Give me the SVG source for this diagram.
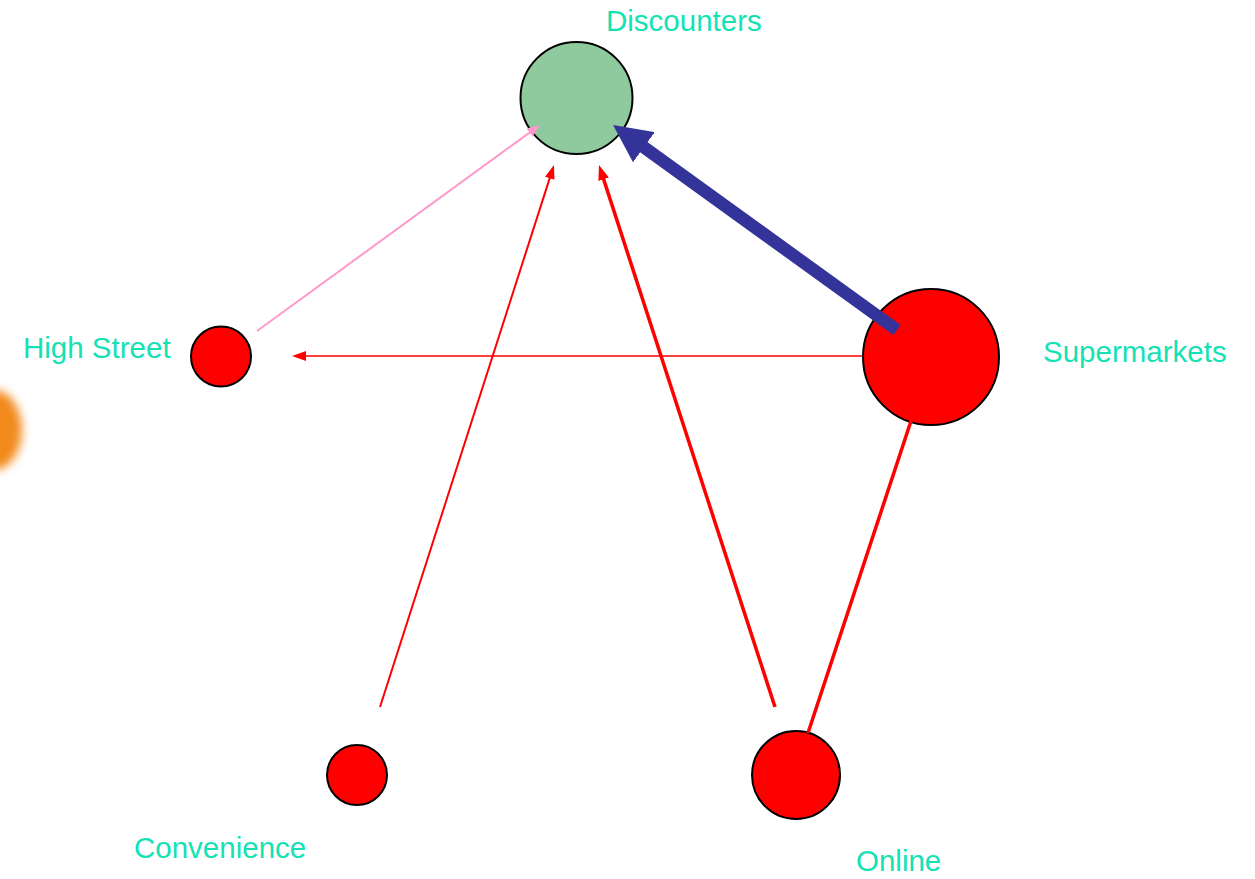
<svg xmlns="http://www.w3.org/2000/svg" width="1255" height="879" viewBox="0 0 1255 879">
<style>
.node{stroke:#000;stroke-width:2}
.red{fill:#FF0000}
.green{fill:#8ECA9E}
.lbl{font-family:"Liberation Sans",Arial,sans-serif;font-size:29.5px;fill:#14E2B4}
.c{fill:none}
</style>
<defs>
<filter id="blur" x="-1" y="-1" width="3" height="3"><feGaussianBlur stdDeviation="5"/></filter>
<marker id="ah-red" viewBox="0 0 14 10" refX="2" refY="5" markerUnits="userSpaceOnUse" markerWidth="14" markerHeight="10" orient="auto"><path d="M0,0 L14,5 L0,10 z" fill="#FF0000"/></marker>
<marker id="ah-red2" viewBox="0 0 15 11" refX="3" refY="5.5" markerUnits="userSpaceOnUse" markerWidth="15" markerHeight="11" orient="auto"><path d="M0,0 L15,5.5 L0,11 z" fill="#FF0000"/></marker>
<marker id="ah-pink" viewBox="0 0 13 10" refX="3" refY="5" markerUnits="userSpaceOnUse" markerWidth="13" markerHeight="10" orient="auto"><path d="M0,0 L13,5 L0,10 z" fill="#FF99CC"/></marker>
<marker id="ah-blue" viewBox="0 0 38 37" refX="4" refY="18.5" markerUnits="userSpaceOnUse" markerWidth="38" markerHeight="37" orient="auto"><path d="M0,0 L38,18.5 L0,37 z" fill="#333399"/></marker>
</defs>
<rect width="1255" height="879" fill="#fff"/>
<ellipse cx="-6" cy="430" rx="28" ry="40" fill="#F28A1A" filter="url(#blur)"/>
<g id="node-discounters"><circle class="node green" cx="576.5" cy="98" r="56"/><text class="lbl" x="606" y="31">Discounters</text></g>
<g id="node-highstreet"><circle class="node red" cx="221" cy="356.5" r="30"/><text class="lbl" x="23" y="358">High Street</text></g>
<g id="node-supermarkets"><circle class="node red" cx="931" cy="357" r="68"/><text class="lbl" x="1043" y="362">Supermarkets</text></g>
<g id="node-convenience"><circle class="node red" cx="357" cy="775" r="30"/><text class="lbl" x="134" y="858">Convenience</text></g>
<g id="node-online"><circle class="node red" cx="796" cy="775" r="44"/><text class="lbl" x="856" y="871">Online</text></g>
<g id="connectors">
<line class="c" x1="257" y1="331" x2="531.9" y2="130.9" stroke="#FF99CC" stroke-width="2" marker-end="url(#ah-pink)"/>
<line class="c" x1="380" y1="707" x2="550.3" y2="176.4" stroke="#FF0000" stroke-width="2" marker-end="url(#ah-red)"/>
<line class="c" x1="775" y1="707" x2="602.7" y2="176.4" stroke="#FF0000" stroke-width="3.5" marker-end="url(#ah-red2)"/>
<line class="c" x1="862" y1="356" x2="304" y2="356" stroke="#FF0000" stroke-width="1.6" marker-end="url(#ah-red)"/>
<line class="c" x1="911" y1="421" x2="808" y2="733" stroke="#FF0000" stroke-width="3.5"/>
<line class="c" x1="897" y1="330" x2="640.6" y2="144.9" stroke="#333399" stroke-width="12.5" marker-end="url(#ah-blue)"/>
</g>
</svg>
